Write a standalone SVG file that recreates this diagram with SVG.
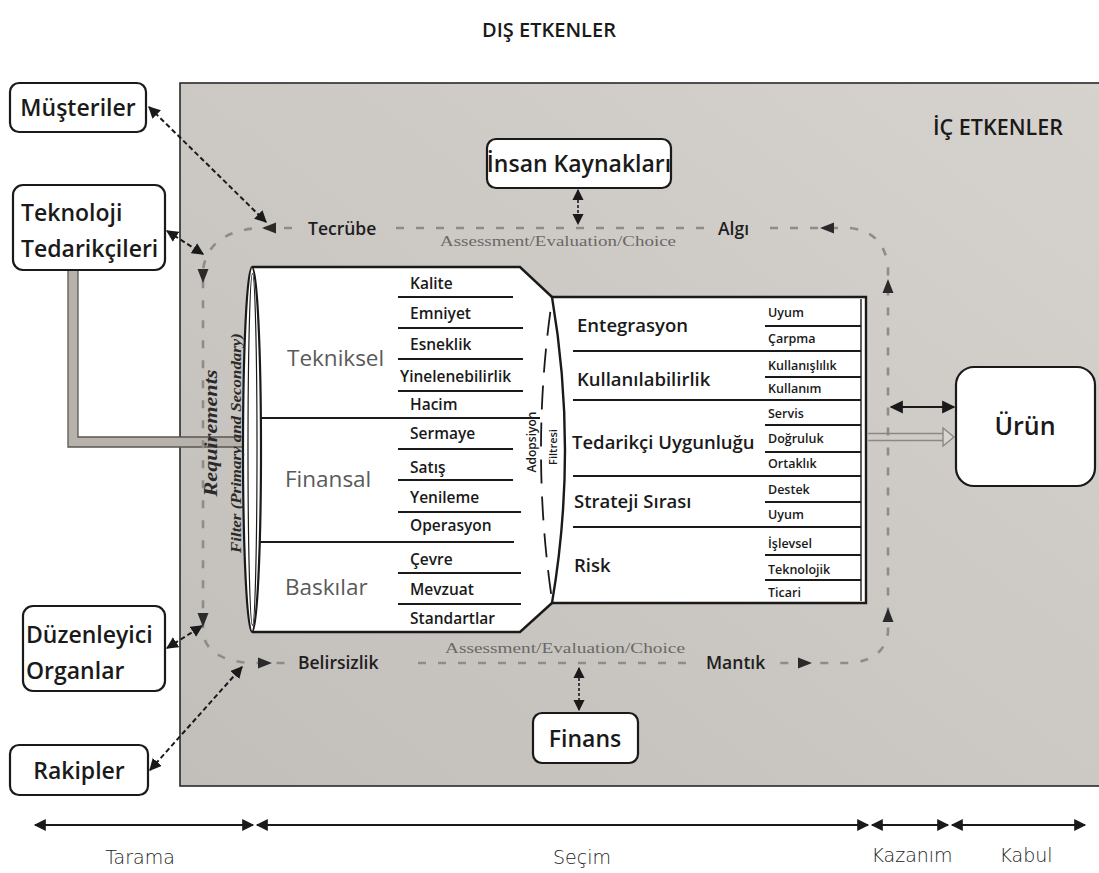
<svg xmlns="http://www.w3.org/2000/svg" width="1099" height="873" viewBox="0 0 1099 873">
<defs>
<linearGradient id="pg" x1="1" y1="0" x2="0" y2="1">
<stop offset="0" stop-color="#d6d3cf"/>
<stop offset="1" stop-color="#c2beb9"/>
</linearGradient>
<marker id="ah" viewBox="0 0 10 10" refX="9" refY="5" markerWidth="6" markerHeight="6" orient="auto-start-reverse" markerUnits="strokeWidth">
<path d="M0,0 L10,5 L0,10 z" fill="#1a1a1a"/>
</marker>
<marker id="ahb" viewBox="0 0 10 10" refX="9" refY="5" markerWidth="7" markerHeight="7" orient="auto-start-reverse" markerUnits="strokeWidth">
<path d="M0,0 L10,5 L0,10 z" fill="#1a1a1a"/>
</marker>
<marker id="ahs" viewBox="0 0 10 10" refX="9" refY="5" markerWidth="6.5" markerHeight="6" orient="auto-start-reverse" markerUnits="strokeWidth">
<path d="M0,0 L10,5 L0,10 z" fill="#1a1a1a"/>
</marker>
</defs>
<style>
.box{fill:#fff;stroke:#1a1a1a;stroke-width:2.2}
.lbl{font-family:"Open Sans","DejaVu Sans",sans-serif;font-weight:600;fill:#1a1a1a}
.big{font-size:23px}
.cat{font-family:"Open Sans","DejaVu Sans",sans-serif;font-size:22.5px;fill:#5a5a5a}
.sub{font-family:"Open Sans","DejaVu Sans",sans-serif;font-weight:600;font-size:15.5px;fill:#1a1a1a}
.rmaj{font-family:"Open Sans","DejaVu Sans",sans-serif;font-weight:600;font-size:18.5px;fill:#1a1a1a}
.rsub{font-family:"Open Sans","DejaVu Sans",sans-serif;font-weight:600;font-size:12.5px;fill:#1a1a1a}
.loop{font-family:"Open Sans","DejaVu Sans",sans-serif;font-weight:600;font-size:17.5px;fill:#1e1e1e}
.ser{font-family:"Liberation Serif",serif;font-size:14.5px;fill:#6a6866}
.req{font-family:"Liberation Serif",serif;font-weight:bold;font-style:italic;fill:#2a2a2a}
.hand{font-family:"DejaVu Sans",sans-serif;font-weight:200;font-size:19px;fill:#222}
.div{stroke:#1a1a1a;stroke-width:2}
.sdiv{stroke:#1a1a1a;stroke-width:1.8}
.dash{fill:none;stroke:#8e8b88;stroke-width:2.6;stroke-dasharray:8 12}
.ext{fill:none;stroke:#1a1a1a;stroke-width:2;stroke-dasharray:5 3}
.tri{fill:#2a2a2a}
.tl{stroke:#1a1a1a;stroke-width:2;fill:none}
</style>

<rect x="0" y="0" width="1099" height="873" fill="#fff"/>

<g id="panel">
<rect x="180" y="83" width="925" height="703" fill="url(#pg)" stroke="#2a2a2a" stroke-width="1.6"/>
</g>

<g id="titles">
<text x="549" y="37" text-anchor="middle" class="lbl" font-size="20">DIŞ ETKENLER</text>
<text x="998" y="135" text-anchor="middle" class="lbl" font-size="21.5">İÇ ETKENLER</text>
</g>

<g id="pipe">
<path d="M68,270 L68,447 L246,447 L246,437 L78,437 L78,270 Z" fill="#b7b2ac" stroke="#5a5753" stroke-width="1.3"/>
</g>

<g id="requirements-filter">
<path d="M252,267 L520,267 L552,297 Q578,450 552,603 L520,632 L252,632 Z" fill="#fff" stroke="none"/>
<path d="M552,297 L520,267 L252,267 M252,632 L520,632 L552,603" fill="none" stroke="#1a1a1a" stroke-width="2.4"/>
<ellipse cx="252" cy="449.5" rx="9" ry="182.5" fill="#fff" stroke="#1a1a1a" stroke-width="2.2"/>
<ellipse cx="252.5" cy="449.5" rx="4.5" ry="176" fill="none" stroke="#1a1a1a" stroke-width="1.2"/>
<line x1="260" y1="418" x2="540" y2="418" class="div"/>
<line x1="260" y1="542" x2="514" y2="542" class="div"/>
<text x="287" y="366" class="cat">Tekniksel</text>
<text x="285" y="487" class="cat">Finansal</text>
<text x="285" y="595" class="cat">Baskılar</text>
<text x="410" y="289" class="sub">Kalite</text>
<line x1="398" y1="297" x2="513" y2="297" class="sdiv"/>
<text x="410" y="319" class="sub">Emniyet</text>
<line x1="398" y1="328" x2="523" y2="328" class="sdiv"/>
<text x="410" y="350" class="sub">Esneklik</text>
<line x1="398" y1="359" x2="523" y2="359" class="sdiv"/>
<text x="400" y="382" class="sub">Yinelenebilirlik</text>
<line x1="398" y1="391" x2="523" y2="391" class="sdiv"/>
<text x="410" y="410" class="sub">Hacim</text>
<text x="410" y="439" class="sub">Sermaye</text>
<line x1="398" y1="449" x2="513" y2="449" class="sdiv"/>
<text x="410" y="473" class="sub">Satış</text>
<line x1="398" y1="480" x2="513" y2="480" class="sdiv"/>
<text x="410" y="503" class="sub">Yenileme</text>
<line x1="398" y1="512" x2="521" y2="512" class="sdiv"/>
<text x="410" y="531" class="sub">Operasyon</text>
<text x="410" y="565" class="sub">Çevre</text>
<line x1="398" y1="573" x2="521" y2="573" class="sdiv"/>
<text x="410" y="595" class="sub">Mevzuat</text>
<line x1="398" y1="604" x2="521" y2="604" class="sdiv"/>
<text x="410" y="624" class="sub">Standartlar</text>
<text transform="translate(217,433) rotate(-90)" text-anchor="middle" class="req" font-size="18" textLength="127" lengthAdjust="spacingAndGlyphs">Requirements</text>
<text transform="translate(241,443) rotate(-90)" text-anchor="middle" class="req" font-size="15" textLength="220" lengthAdjust="spacingAndGlyphs">Filter (Primary and Secondary)</text>
</g>

<g id="adoption-filter">
<path d="M552,297 L866,297 L866,603 L552,603 Q578,450 552,297 Z" fill="#fff" stroke="#1a1a1a" stroke-width="2.4"/>
<path d="M552,300 Q530,450 552,600" fill="none" stroke="#1a1a1a" stroke-width="1.8" stroke-dasharray="24 13" stroke-dashoffset="-12"/>
<line x1="861" y1="299" x2="861" y2="601" stroke="#1a1a1a" stroke-width="1.4"/>
<text transform="translate(536,442) rotate(-90)" text-anchor="middle" class="lbl" font-size="12">Adopsiyon</text>
<text transform="translate(557,447) rotate(-90)" text-anchor="middle" class="lbl" font-size="11">Filtresi</text>
<line x1="573" y1="351" x2="861" y2="351" class="div"/>
<line x1="573" y1="400" x2="861" y2="400" class="div"/>
<line x1="573" y1="476" x2="861" y2="476" class="div"/>
<line x1="573" y1="527" x2="861" y2="527" class="div"/>
<text x="577" y="332" class="rmaj">Entegrasyon</text>
<text x="577" y="386" class="rmaj">Kullanılabilirlik</text>
<text x="572" y="449" class="rmaj">Tedarikçi Uygunluğu</text>
<text x="574" y="508" class="rmaj">Strateji Sırası</text>
<text x="574" y="572" class="rmaj">Risk</text>
<text x="768" y="317" class="rsub">Uyum</text>
<line x1="765" y1="326" x2="861" y2="326" class="sdiv"/>
<text x="768" y="343" class="rsub">Çarpma</text>
<text x="768" y="370" class="rsub">Kullanışlılık</text>
<line x1="765" y1="377" x2="861" y2="377" class="sdiv"/>
<text x="768" y="393" class="rsub">Kullanım</text>
<text x="768" y="418" class="rsub">Servis</text>
<line x1="765" y1="425" x2="861" y2="425" class="sdiv"/>
<text x="768" y="443" class="rsub">Doğruluk</text>
<line x1="765" y1="452" x2="861" y2="452" class="sdiv"/>
<text x="768" y="468" class="rsub">Ortaklık</text>
<text x="768" y="494" class="rsub">Destek</text>
<line x1="765" y1="502" x2="861" y2="502" class="sdiv"/>
<text x="768" y="519" class="rsub">Uyum</text>
<text x="768" y="548" class="rsub">İşlevsel</text>
<line x1="765" y1="555" x2="861" y2="555" class="sdiv"/>
<text x="768" y="574" class="rsub">Teknolojik</text>
<line x1="765" y1="580" x2="861" y2="580" class="sdiv"/>
<text x="768" y="597" class="rsub">Ticari</text>
</g>

<g id="musteriler">
<rect x="10" y="83" width="136" height="49" rx="9" class="box"/>
<text x="78" y="116" text-anchor="middle" class="lbl big">Müşteriler</text>
</g>
<g id="teknoloji-tedarikcileri">
<rect x="13" y="185" width="152" height="85" rx="10" class="box"/>
<text x="21" y="221" class="lbl big">Teknoloji</text>
<text x="21" y="257" class="lbl big">Tedarikçileri</text>
</g>
<g id="duzenleyici-organlar">
<rect x="23" y="606" width="142" height="85" rx="10" class="box"/>
<text x="26" y="643" class="lbl big">Düzenleyici</text>
<text x="26" y="679" class="lbl big">Organlar</text>
</g>
<g id="rakipler">
<rect x="10" y="745" width="138" height="50" rx="9" class="box"/>
<text x="79" y="779" text-anchor="middle" class="lbl big">Rakipler</text>
</g>
<g id="insan-kaynaklari">
<rect x="487" y="139" width="184" height="49" rx="9" class="box"/>
<text x="579" y="172" text-anchor="middle" class="lbl big">İnsan Kaynakları</text>
</g>
<g id="finans">
<rect x="533" y="713" width="105" height="50" rx="9" class="box"/>
<text x="585" y="747" text-anchor="middle" class="lbl big">Finans</text>
</g>
<g id="urun">
<rect x="956" y="367" width="139" height="119" rx="18" class="box"/>
<text x="1025" y="435" text-anchor="middle" class="lbl" font-size="25">Ürün</text>
</g>

<g id="loop-labels">
<text x="308" y="235" class="loop">Tecrübe</text>
<text x="718" y="235" class="loop">Algı</text>
<text x="298" y="669" class="loop">Belirsizlik</text>
<text x="706" y="669" class="loop">Mantık</text>
<text x="440" y="246" class="ser" textLength="236" lengthAdjust="spacingAndGlyphs">Assessment/Evaluation/Choice</text>
<text x="445" y="653" class="ser" textLength="240" lengthAdjust="spacingAndGlyphs">Assessment/Evaluation/Choice</text>
</g>

<g id="connectors">
<path class="dash" d="M292,228 L258,228 Q208,232 203,270 L203,632 Q206,660 250,663 L290,663"/>
<path class="dash" d="M396,228 L706,228"/>
<path class="dash" d="M770,228 L850,228 Q885,232 888,268 L888,632 Q885,660 850,663 L775,663"/>
<path class="dash" d="M418,663 L698,663"/>
<polygon class="tri" points="262,228 276,222.5 276,233.5"/>
<polygon class="tri" points="820,228 834,222.5 834,233.5"/>
<polygon class="tri" points="203,283 197.5,269 208.5,269"/>
<polygon class="tri" points="203,627 197.5,613 208.5,613"/>
<polygon class="tri" points="272,663 258,657.5 258,668.5"/>
<polygon class="tri" points="812,663 798,657.5 798,668.5"/>
<polygon class="tri" points="888,279 882.5,293 893.5,293"/>
<polygon class="tri" points="888,608 882.5,622 893.5,622"/>
<line class="ext" x1="149" y1="107" x2="266" y2="222" marker-start="url(#ah)" marker-end="url(#ah)"/>
<line class="ext" x1="167" y1="231" x2="203" y2="254" marker-start="url(#ah)" marker-end="url(#ah)"/>
<line class="ext" x1="167" y1="648" x2="202" y2="626" marker-start="url(#ah)" marker-end="url(#ah)"/>
<line class="ext" x1="150" y1="770" x2="242" y2="667" marker-start="url(#ah)" marker-end="url(#ah)"/>
<line x1="578" y1="190" x2="578" y2="224" stroke="#1a1a1a" stroke-width="1.6" stroke-dasharray="3 2" marker-start="url(#ahb)" marker-end="url(#ahb)"/>
<line x1="579" y1="668" x2="579" y2="710" stroke="#1a1a1a" stroke-width="1.6" stroke-dasharray="3 2" marker-start="url(#ahb)" marker-end="url(#ahb)"/>
<line x1="891" y1="407" x2="954" y2="407" stroke="#1a1a1a" stroke-width="2.2" marker-start="url(#ah)" marker-end="url(#ah)"/>
<path d="M868,433.5 L943,433.5 M868,440.5 L943,440.5" stroke="#8a8784" stroke-width="1.4" fill="none"/>
<path d="M943,428 L954,437 L943,446 Z" fill="#d8d5d1" stroke="#8a8784" stroke-width="1.4"/>
<line class="tl" x1="35" y1="825" x2="253" y2="825" marker-start="url(#ahs)" marker-end="url(#ahs)"/>
<line class="tl" x1="257" y1="825" x2="868" y2="825" marker-start="url(#ahs)" marker-end="url(#ahs)"/>
<line class="tl" x1="872" y1="825" x2="948" y2="825" marker-start="url(#ahs)" marker-end="url(#ahs)"/>
<line class="tl" x1="952" y1="825" x2="1085" y2="825" marker-start="url(#ahs)" marker-end="url(#ahs)"/>
</g>

<g id="phase-labels">
<text x="140" y="864" text-anchor="middle" class="hand">Tarama</text>
<text x="582" y="864" text-anchor="middle" class="hand">Seçim</text>
<text x="912" y="862" text-anchor="middle" class="hand">Kazanım</text>
<text x="1026" y="862" text-anchor="middle" class="hand">Kabul</text>
</g>
</svg>
